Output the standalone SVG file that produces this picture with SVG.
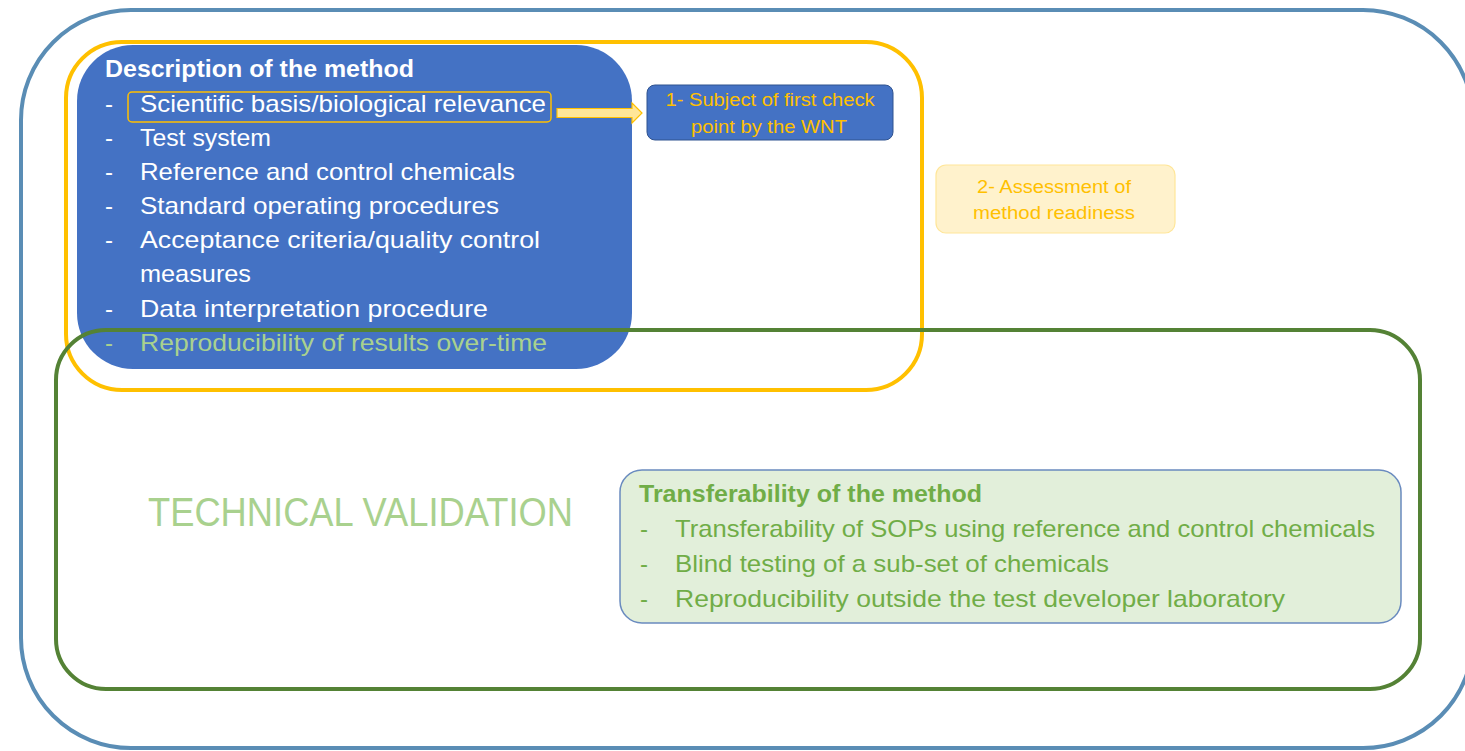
<svg xmlns="http://www.w3.org/2000/svg" width="1465" height="751" viewBox="0 0 1465 751">
<style>
text{font-family:"Liberation Sans",Arial,sans-serif}
.w{fill:#ffffff;font-size:24px}
.wb{fill:#ffffff;font-size:24px;font-weight:bold}
.g{fill:#70AD47;font-size:24px}
.gb{fill:#70AD47;font-size:24px;font-weight:bold}
.lg{fill:#A9D18E}
.y{fill:#FFC000;font-size:18px}
</style>
<rect width="1465" height="751" fill="#ffffff"/>
<g id="outer">
<rect x="21" y="10" width="1452" height="738" rx="110" fill="none" stroke="#5A8DB5" stroke-width="4"/>
</g>
<g id="description">
<rect x="77" y="45" width="555" height="324" rx="56" fill="#4472C4"/>
</g>
<g id="readiness-frame">
<rect x="66" y="42" width="856" height="348" rx="56" fill="none" stroke="#FFC000" stroke-width="4"/>
</g>
<g id="technical-validation">
<rect x="56" y="330" width="1364" height="359" rx="50" fill="none" stroke="#548235" stroke-width="4"/>
<text x="148" y="526" class="lg" font-size="40" textLength="425" lengthAdjust="spacingAndGlyphs">TECHNICAL VALIDATION</text>
</g>
<g id="description-text">
<text x="105" y="77" class="wb" textLength="309" lengthAdjust="spacingAndGlyphs">Description of the method</text>
<rect x="128" y="92" width="423" height="30" rx="4" fill="none" stroke="#FFC000" stroke-width="1.5"/>
<g class="w">
<text x="105" y="112">-</text><text x="140" y="112" textLength="406" lengthAdjust="spacingAndGlyphs">Scientific basis/biological relevance</text>
<text x="105" y="146">-</text><text x="140" y="146" textLength="131" lengthAdjust="spacingAndGlyphs">Test system</text>
<text x="105" y="180">-</text><text x="140" y="180" textLength="375" lengthAdjust="spacingAndGlyphs">Reference and control chemicals</text>
<text x="105" y="214">-</text><text x="140" y="214" textLength="359" lengthAdjust="spacingAndGlyphs">Standard operating procedures</text>
<text x="105" y="248">-</text><text x="140" y="248" textLength="400" lengthAdjust="spacingAndGlyphs">Acceptance criteria/quality control</text>
<text x="140" y="282" textLength="111" lengthAdjust="spacingAndGlyphs">measures</text>
<text x="105" y="317">-</text><text x="140" y="317" textLength="348" lengthAdjust="spacingAndGlyphs">Data interpretation procedure</text>
</g>
<g class="lg" font-size="24">
<text x="105" y="351">-</text><text x="140" y="351" textLength="407" lengthAdjust="spacingAndGlyphs">Reproducibility of results over-time</text>
</g>
</g>
<g id="connectors">
<path d="M557,108.5 H632 V103 L642,113 L632,123 V117.5 H557 Z" fill="#FFE699" stroke="#FFC000" stroke-width="1.2"/>
</g>
<g id="checkpoint1">
<rect x="647" y="85" width="246" height="55" rx="8" fill="#4472C4" stroke="#2F528F" stroke-width="1"/>
<text x="770" y="106" class="y" text-anchor="middle" textLength="209" lengthAdjust="spacingAndGlyphs">1- Subject of first check</text>
<text x="769" y="133" class="y" text-anchor="middle" textLength="156" lengthAdjust="spacingAndGlyphs">point by the WNT</text>
</g>
<g id="checkpoint2">
<rect x="936" y="165" width="239" height="68" rx="10" fill="#FFF2CC" stroke="#FFE699" stroke-width="1.2"/>
<text x="1054" y="193" class="y" text-anchor="middle" textLength="154" lengthAdjust="spacingAndGlyphs">2- Assessment of</text>
<text x="1054" y="219" class="y" text-anchor="middle" textLength="162" lengthAdjust="spacingAndGlyphs">method readiness</text>
</g>
<g id="transferability">
<rect x="620" y="470" width="781" height="153" rx="22" fill="#E2EFDA" stroke="#6A8BBF" stroke-width="1.5"/>
<text x="639" y="502" class="gb" textLength="343" lengthAdjust="spacingAndGlyphs">Transferability of the method</text>
<text x="640" y="537" class="g">-</text><text x="675" y="537" class="g" textLength="700" lengthAdjust="spacingAndGlyphs">Transferability of SOPs using reference and control chemicals</text>
<text x="640" y="572" class="g">-</text><text x="675" y="572" class="g" textLength="434" lengthAdjust="spacingAndGlyphs">Blind testing of a sub-set of chemicals</text>
<text x="640" y="607" class="g">-</text><text x="675" y="607" class="g" textLength="610" lengthAdjust="spacingAndGlyphs">Reproducibility outside the test developer laboratory</text>
</g>
</svg>
